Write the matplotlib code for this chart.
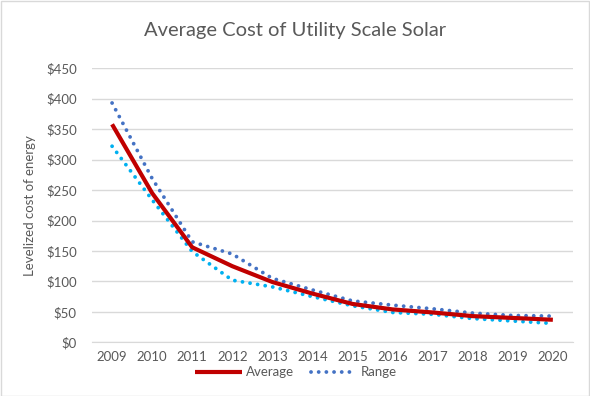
import matplotlib.pyplot as plt
from matplotlib.patches import Rectangle


# data
years = ['2009', '2010', '2011', '2012', '2013', '2014',
         '2015', '2016', '2017', '2018', '2019', '2020']
average = [358, 245, 156, 125, 99, 80, 63, 54, 49, 43, 40, 37]
range_high = [393, 269, 165, 145, 105, 86, 68, 61, 55, 48, 44, 43]
range_low = [322, 234, 149, 102, 91, 75, 60, 49, 46, 39, 35, 31]

plt.rcParams['font.family'] = ['Lato', 'DejaVu Sans']
text_color = '#595959'

# initial the figure
fig = plt.figure(figsize=(5.9, 3.96), dpi=100)
ax = fig.add_axes([0.156, 0.1356, 0.815, 0.692])

x = range(len(years))
dot_style = (0, (0.01, 2.0))
ax.plot(x, range_low, color='#00B0F0', lw=2.75, ls=dot_style,
        dash_capstyle='round', zorder=3)
ax.plot(x, range_high, color='#4472C4', lw=2.75, ls=dot_style,
        dash_capstyle='round', label='Range', zorder=3)
ax.plot(x, average, color='#C00000', lw=3, solid_capstyle='butt',
        label='Average', zorder=4)

# figure settings
ax.set_xlim(-0.5, len(years) - 0.5)
ax.set_ylim(0, 450)
ax.set_xticks(list(x))
ax.set_xticklabels(years)
ax.set_yticks(range(0, 451, 50))
ax.set_yticklabels([f'${v}' for v in range(0, 451, 50)])
ax.tick_params(length=0, labelsize=9.5, colors=text_color)
ax.tick_params(axis='x', pad=6)
ax.tick_params(axis='y', pad=11)
ax.grid(axis='y', color='#D9D9D9', lw=1)
ax.set_axisbelow(True)
for side in ['top', 'right', 'left']:
    ax.spines[side].set_visible(False)
ax.spines['bottom'].set_color('#D9D9D9')

ax.set_ylabel('Levelized cost of energy', fontsize=9.5, color=text_color, labelpad=7)
fig.text(0.5, 0.922, 'Average Cost of Utility Scale Solar', ha='center', va='center',
         fontsize=14.5, color=text_color)

handles, labels = ax.get_legend_handles_labels()
fig.legend(handles[::-1], labels[::-1], loc='center', bbox_to_anchor=(0.502, 0.06),
           ncol=2, frameon=False, fontsize=9.5, labelcolor=text_color,
           handlelength=3.5, handletextpad=0.3, columnspacing=1.3)

fig.patches.append(Rectangle((0.001, 0.001), 0.997, 0.996, transform=fig.transFigure,
                             fill=False, edgecolor='#D9D9D9', lw=1))

fig.savefig('out.png', dpi=100)
